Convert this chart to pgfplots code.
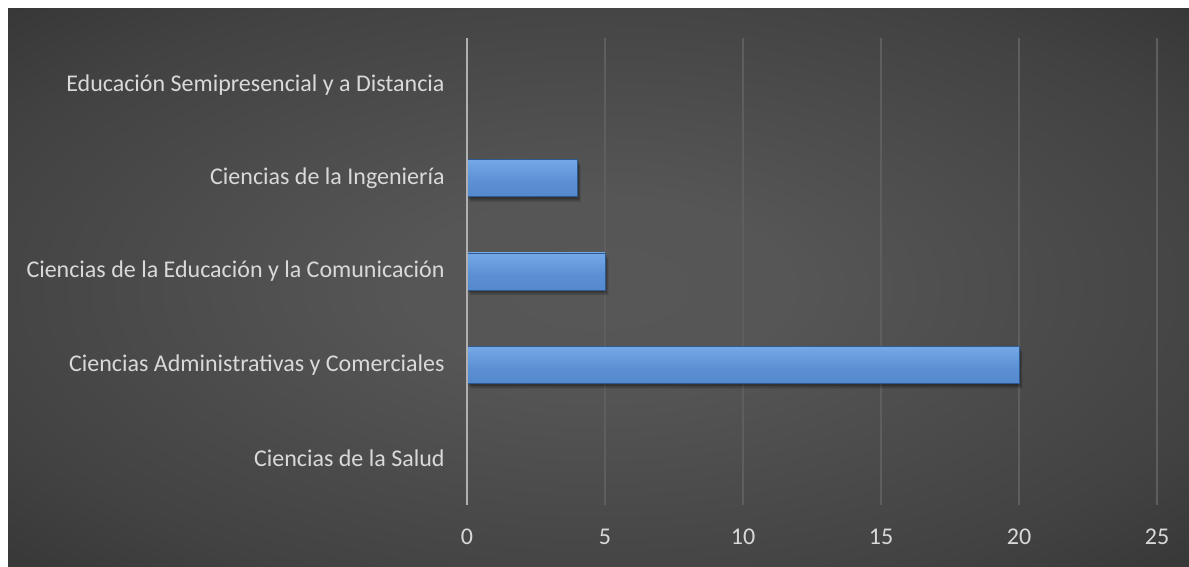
\documentclass[border=0pt]{standalone}
\usepackage{pgfplots}
\pgfplotsset{compat=1.18}
\usepackage{fontspec}
\setmainfont{Carlito}
\definecolor{txt}{HTML}{D9D9D9}
\definecolor{gridc}{HTML}{5E5E5E}
\definecolor{axc}{HTML}{B0B0B0}
\definecolor{bgin}{HTML}{575757}
\definecolor{bgmid}{HTML}{424242}
\definecolor{bgout}{HTML}{262626}
\definecolor{btop}{HTML}{B4DCFF}
\definecolor{btop2}{HTML}{7AAEEB}
\definecolor{bmid}{HTML}{5A8FD3}
\definecolor{bmid2}{HTML}{4F84C8}
\definecolor{bbot}{HTML}{2E5A92}
\pgfdeclareradialshading{bgshade}{\pgfpoint{0bp}{0bp}}{color(0bp)=(bgin); color(8bp)=(bgin!95!bgmid); color(28bp)=(bgmid); color(48bp)=(bgout); color(50bp)=(bgout)}
\pgfdeclareverticalshading{barshade}{100bp}{color(0bp)=(bbot); color(6bp)=(bmid2); color(45bp)=(bmid); color(82bp)=(btop2); color(90bp)=(btop); color(100bp)=(btop)}
\begin{document}
\begin{tikzpicture}[x=0.6pt,y=0.6pt]
\useasboundingbox (0,0) rectangle (1189,567);
\fill[white] (0,0) rectangle (1189,567);
\shade[shading=bgshade] (8,0) rectangle (1189,558);
\begin{axis}[
  at={(280.2pt,37.2pt)}, anchor=south west,
  scale only axis, width=414pt, height=280.2pt,
  xmin=0, xmax=25, ymin=-0.5, ymax=4.5,
  xtick={0,5,10,15,20,25},
  ytick={0,1,2,3,4},
  yticklabels={Ciencias de la Salud, Ciencias Administrativas y Comerciales, Ciencias de la Educación y la Comunicación, Ciencias de la Ingeniería, Educación Semipresencial y a Distancia},
  axis line style={draw=none},
  major tick style={draw=none},
  xmajorgrids, grid style={gridc, line width=1.2pt},
  font=\fontsize{14.4pt}{16pt}\selectfont,
  /pgf/number format/assume math mode=true,
  xticklabel style={anchor=center, yshift=-19.2pt, text=txt},
  yticklabel style={anchor=east, inner sep=0pt, xshift=-9pt, text=txt},
  xbar, bar width=22.2pt, bar shift=0pt,
  clip=false,
]
% soft shadow
\addplot[draw=none, fill=black, fill opacity=0.18, bar shift=-3pt, xshift=2pt]
  coordinates {(0,0) (20,1) (5,2) (4,3) (0,4)};
\addplot[draw=none, fill=black, fill opacity=0.25, bar shift=-1.6pt, xshift=1pt]
  coordinates {(0,0) (20,1) (5,2) (4,3) (0,4)};
% bars
\addplot[draw=bbot, line width=0.3pt, shading=barshade] coordinates {(20,1)};
\addplot[draw=bbot, line width=0.3pt, shading=barshade] coordinates {(5,2)};
\addplot[draw=bbot, line width=0.3pt, shading=barshade] coordinates {(4,3)};
\addplot[axc, line width=1.2pt, xbar=0pt, draw=axc, forget plot, sharp plot] coordinates {(0,-0.5) (0,4.5)};
\end{axis}
\end{tikzpicture}
\end{document}
